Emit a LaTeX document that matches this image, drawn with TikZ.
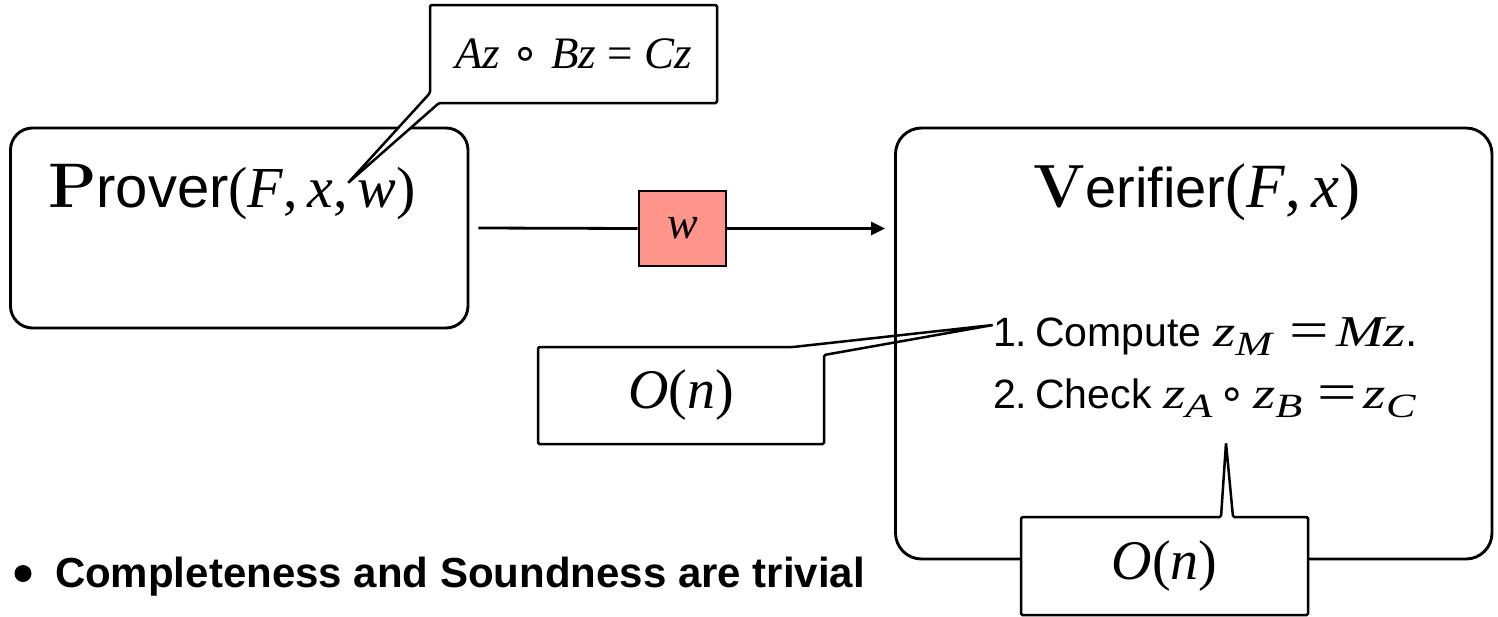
\documentclass[tikz,border=0pt]{standalone}
\usepackage{fontspec}
\usetikzlibrary{arrows.meta}
\newfontfamily\hv{Liberation Sans}
\newfontfamily\tm{Liberation Serif}
\newfontfamily\tmw{Liberation Serif}[FakeStretch=1.3]
\newfontfamily\djv{DejaVu Sans}
\newcommand\mi[1]{{\tm\itshape #1}}
\newcommand\wi[1]{{\tmw\itshape #1}}
\newcommand\fs[1]{\fontsize{#1}{#1}\selectfont}
\newcommand\wsub[1]{\raisebox{-9pt}{\fs{34}\wi{#1}}}
\newcommand\weq{{\tmw\fs{54}\raisebox{-2.5pt}{=}}}
\newcommand\rop{{\djv ∘}}
\newcommand\gap{\hspace{0.25em}}
\definecolor{wsalmon}{RGB}{255,148,138}
\pgfdeclarelayer{top}
\pgfsetlayers{main,top}
\begin{document}
\begin{tikzpicture}[x=1pt,y=-1pt,
  bigbox/.style={draw, line width=2.9pt, inner sep=0pt},
  callout/.style={draw, fill=white, line width=2.5pt, rounded corners=1.5pt},
  txt/.style={inner sep=0pt, outer sep=0pt},
  conn/.style={line width=2.8pt},
]
\useasboundingbox (0,0) rectangle (1498,616);

% texts on top layer
\begin{pgfonlayer}{top}
\node[txt, anchor=base west] (ptitle) at (48,207)
  {\fs{63}\textbf{P}\fs{58}\hv rover\fs{58}\tm(\mi{F},\,\mi{x},\,\mi{w})};
\node[txt, anchor=base] (vtitle) at (1197,207)
  {\fs{61}\textbf{V}\fs{56}\hv erifier\fs{63}\tm(\mi{F},\,\mi{x})};
\node[txt, anchor=base west] (step1) at (993,346)
  {\fs{41}\hv 1.\hspace{0.2em}Compute \fs{44}\wi{z}\wsub{M}\hspace{0.4em}\weq\hspace{0.15em}\wi{Mz}\hv.};
\node[txt, anchor=base west] (step2) at (993,408)
  {\fs{41}\hv 2.\hspace{0.2em}Check \fs{44}\wi{z}\wsub{A}\hspace{0.15em}\rop\hspace{0.15em}\wi{z}\wsub{B}\hspace{0.35em}\weq\hspace{0.15em}\wi{z}\wsub{C}};
\node[txt, minimum width=287pt, minimum height=98pt] (eq) at (573.5,54)
  {\fs{45}\mi{Az}\gap\rop\gap\mi{Bz}\gap\tm=\gap\mi{Cz}};
\node[txt, minimum width=286pt, minimum height=97pt] (on) at (681,395.5)
  {\fs{56}\mi{O}\tm(\mi{n}\tm)};
\node[txt, minimum width=287pt, minimum height=98pt] (ontwo) at (1164.5,566)
  {\fs{56}\mi{O}\tm(\mi{n}\tm)};
\node[circle, fill, inner sep=0pt, minimum size=17pt] (bullet) at (23,573.5) {};
\node[txt, anchor=base west] (claim) at (55,587)
  {\fs{42}\hv\bfseries Completeness and Soundness are trivial};
\end{pgfonlayer}

% prover box
\node[bigbox, rounded corners=22pt, minimum width=457.5pt, minimum height=200pt] (prover) at (239.25,228) {};

% callout over prover
\coordinate (eqtip) at (348,183);
\draw[callout] (eq.north west) -- ([yshift=10pt]eq.south west) -- (eqtip)
  -- ([xshift=9pt]eq.south west) -- (eq.south east) -- (eq.north east) -- cycle;

% left O(n) callout
\coordinate (ontip) at (993,325);
\draw[callout] (on.north west) -- ([xshift=-31pt]on.north east) -- (ontip)
  -- ([yshift=-8pt]on.north east) -- (on.south east) -- (on.south west) -- cycle;

% verifier box
\node[bigbox, rounded corners=26pt, minimum width=596.5pt, minimum height=431pt] (verifier) at (1193.75,343.5) {};

% bottom O(n) callout
\coordinate (ontwotip) at (1226,443);
\draw[callout] (ontwo.north west) -- ([xshift=56.5pt]ontwo.north) -- (ontwotip)
  -- ([xshift=68.5pt]ontwo.north) -- (ontwo.north east) -- (ontwo.south east)
  -- (ontwo.south west) -- cycle;

% message w
\node[draw, fill=wsalmon, line width=2.8pt, minimum width=87pt, minimum height=75pt, inner sep=0pt] (wbox) at (682.5,228.5)
  {\fs{46}\mi{w}};
\draw[conn] ([xshift=9pt]prover.east) -- (wbox.west);
\draw[conn, -{Triangle[length=14pt,width=13pt]}] (wbox.east) -- ([xshift=-9pt]wbox.east -| verifier.west);
\end{tikzpicture}
\end{document}
